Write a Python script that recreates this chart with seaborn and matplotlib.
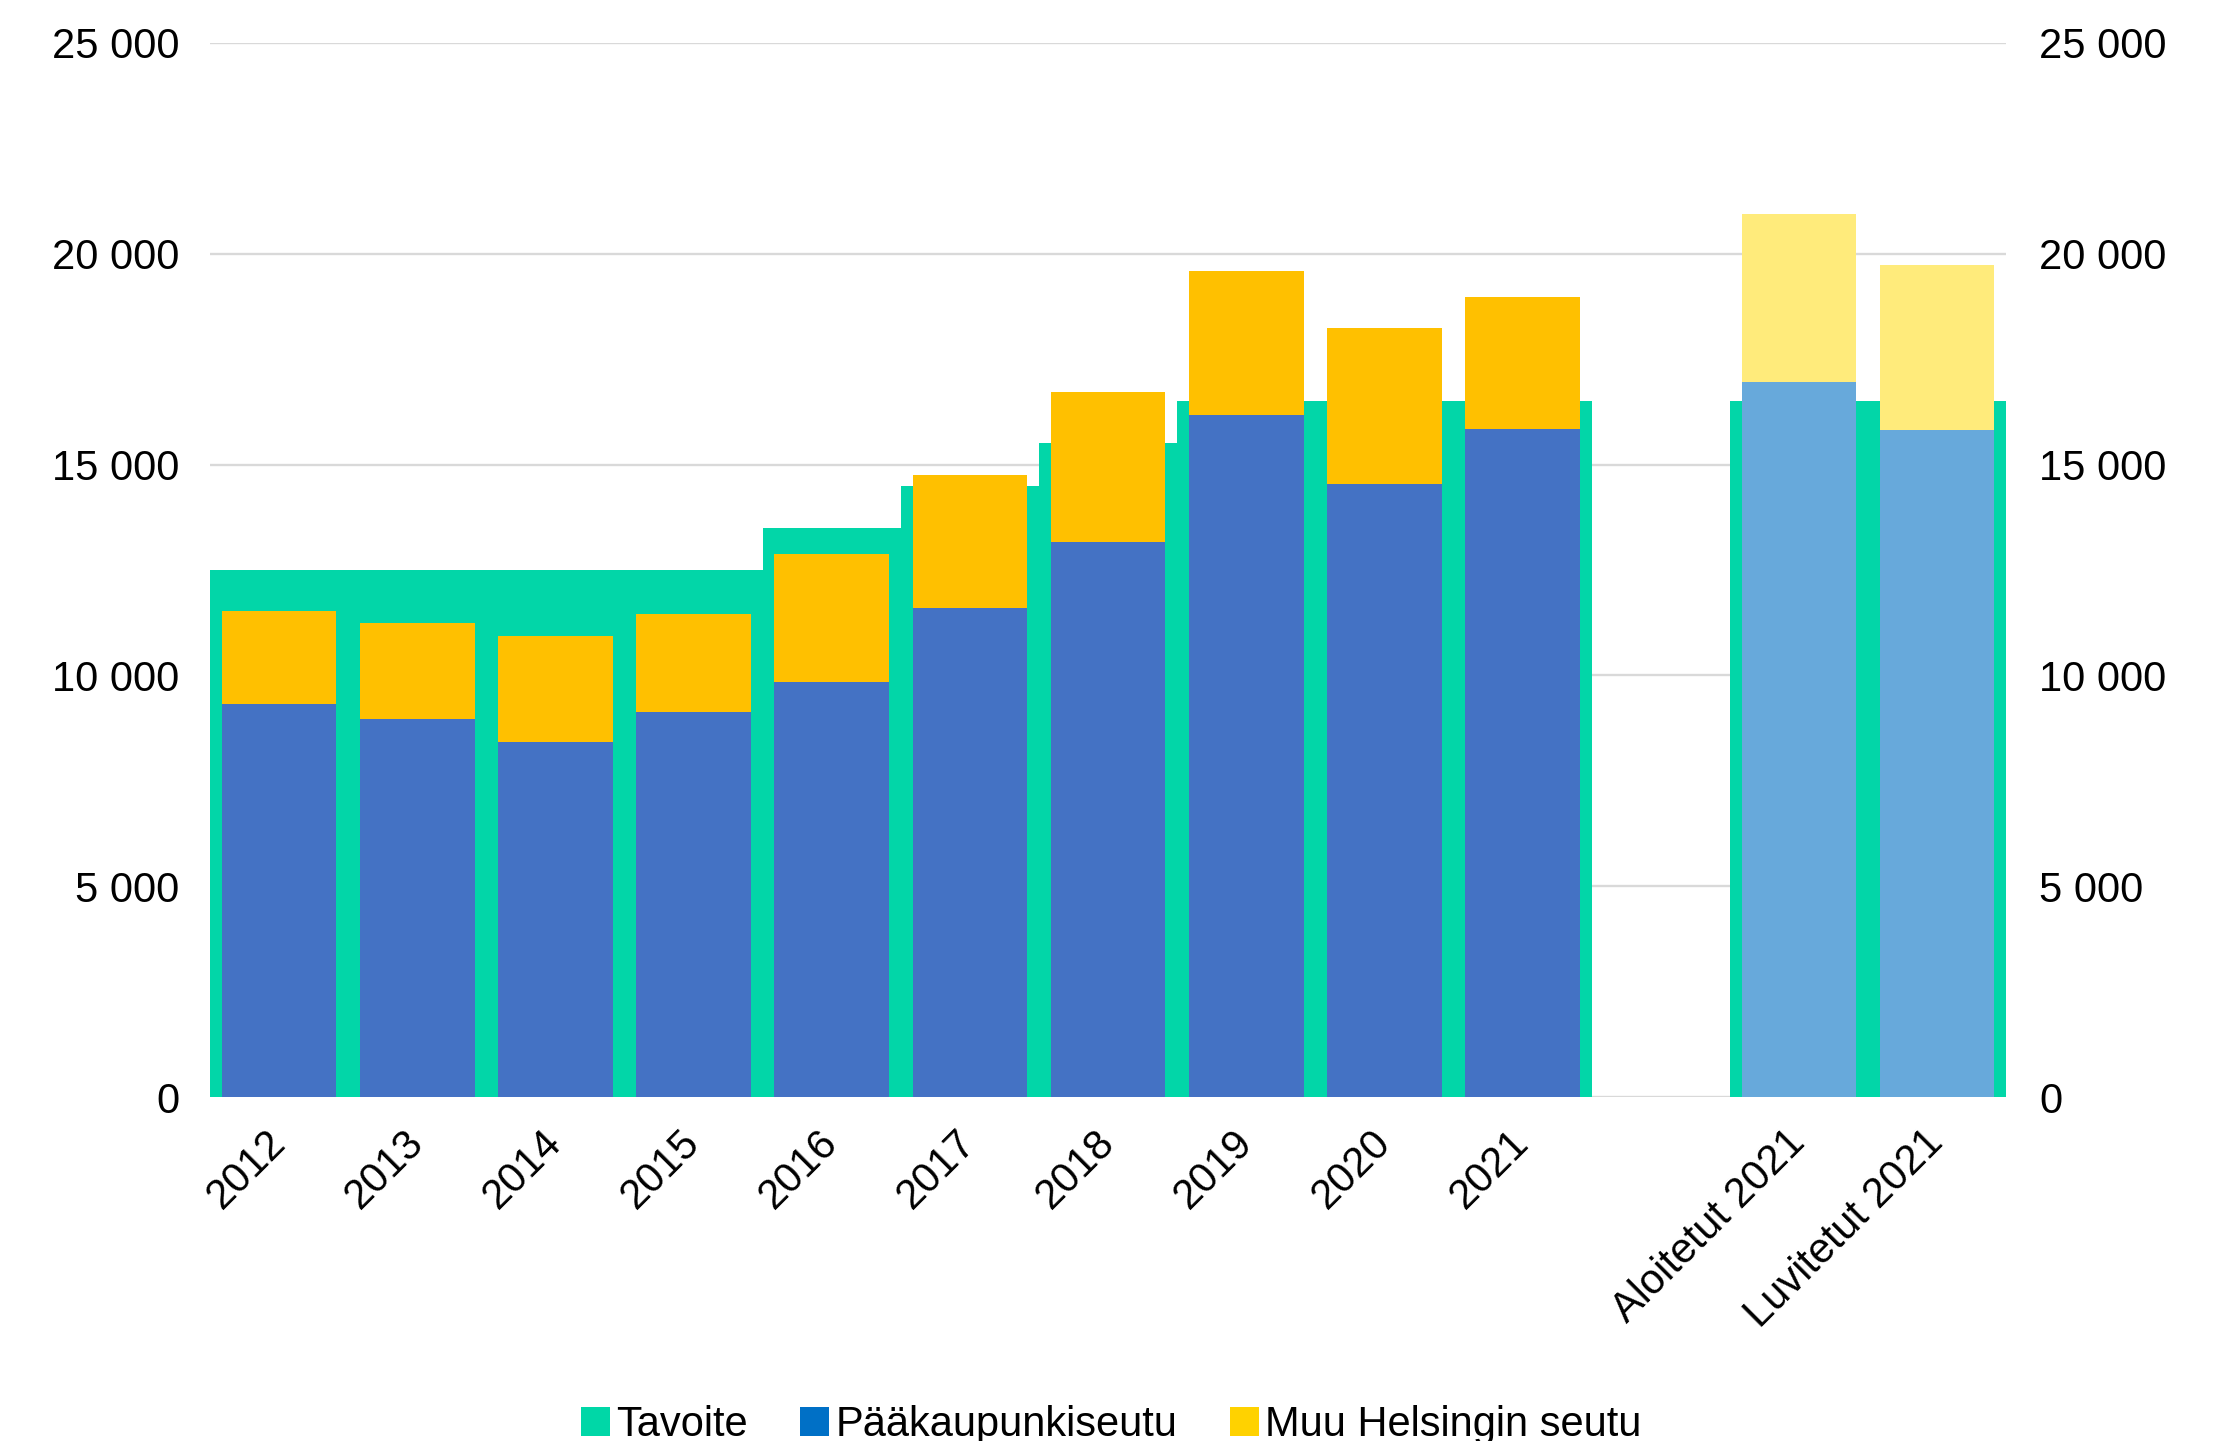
import matplotlib
matplotlib.use("Agg")
import matplotlib.pyplot as plt
import matplotlib.transforms as mtransforms
from matplotlib.patches import Patch
import seaborn as sns
import pandas as pd

# Categories (the blank slot separates yearly totals from the 2021 breakdown)
categories = ["2012", "2013", "2014", "2015", "2016", "2017", "2018", "2019",
              "2020", "2021", " ", "Aloitetut 2021", "Luvitetut 2021"]
data_categories = ["2012", "2013", "2014", "2015", "2016", "2017", "2018", "2019",
                   "2020", "2021", "Aloitetut 2021", "Luvitetut 2021"]

# Target (Tavoite)
tavoite = [12500, 12500, 12500, 12500, 13500, 14500, 15500, 16500,
           16500, 16500, 16500, 16500]
# Capital region (Pääkaupunkiseutu)
paakaupunkiseutu = [9310, 8970, 8430, 9140, 9840, 11610, 13160, 16170,
                    14540, 15840, 16950, 15830]
# Rest of Helsinki region (Muu Helsingin seutu)
muu_seutu = [2220, 2270, 2510, 2310, 3030, 3140, 3560, 3430,
             3690, 3130, 4000, 3910]

y_ticks = [0, 5000, 10000, 15000, 20000, 25000]
y_tick_labels = ["0", "5 000", "10 000", "15 000", "20 000", "25 000"]

legend_labels = ["Tavoite", "Pääkaupunkiseutu", "Muu Helsingin seutu"]

# Colours
c_target = "#02D6A8"
c_pks = {c: "#4472C4" for c in data_categories}
c_muu = {c: "#FFC000" for c in data_categories}
for c in ["Aloitetut 2021", "Luvitetut 2021"]:
    c_pks[c] = "#67A9DB"
    c_muu[c] = "#FFEB7B"
legend_colors = ["#00D7A7", "#0070C6", "#FFD200"]

df = pd.DataFrame({
    "kategoria": data_categories,
    "tavoite": tavoite,
    "pks": paakaupunkiseutu,
    "muu": muu_seutu,
})
df["yhteensa"] = df["pks"] + df["muu"]

sns.set_theme(style="white")
plt.rcParams["font.family"] = ["Liberation Sans", "DejaVu Sans"]
plt.rcParams["text.color"] = "black"

fig = plt.figure(figsize=(22.29, 14.41), dpi=100)
ax = fig.add_axes([0.0942, 0.2387, 0.9000 - 0.0942, 0.9702 - 0.2387])

sns.barplot(data=df, x="kategoria", y="tavoite", order=categories,
            color=c_target, width=1.0, errorbar=None, linewidth=0,
            saturation=1, ax=ax)
sns.barplot(data=df, x="kategoria", y="yhteensa", order=categories,
            hue="kategoria", palette=c_muu, dodge=False, legend=False,
            width=0.83, errorbar=None, linewidth=0, saturation=1, ax=ax)
sns.barplot(data=df, x="kategoria", y="pks", order=categories,
            hue="kategoria", palette=c_pks, dodge=False, legend=False,
            width=0.83, errorbar=None, linewidth=0, saturation=1, ax=ax)

ax.set_xlim(-0.5, len(categories) - 0.5)
ax.set_ylim(0, 25000)
ax.set_yticks(y_ticks)
ax.set_yticklabels(y_tick_labels)
ax.set_xlabel("")
ax.set_ylabel("")
ax.set_axisbelow(True)
ax.yaxis.grid(True, color="#D9D9D9", linewidth=1.7)
ax.xaxis.grid(False)
for s in ax.spines.values():
    s.set_visible(False)
ax.tick_params(axis="y", length=0, pad=22, labelsize=30, labelcolor="black")
ax.tick_params(axis="x", length=0, pad=14, labelsize=30, labelcolor="black")
shift = mtransforms.ScaledTranslation(-0.14, -0.06, fig.dpi_scale_trans)
for lbl in ax.get_xticklabels():
    lbl.set_rotation(45)
    lbl.set_ha("right")
    lbl.set_va("top")
    lbl.set_rotation_mode("anchor")
    lbl.set_transform(lbl.get_transform() + shift)

ax2 = ax.twinx()
ax2.set_ylim(0, 25000)
ax2.set_yticks(y_ticks)
ax2.set_yticklabels(y_tick_labels)
ax2.grid(False)
for s in ax2.spines.values():
    s.set_visible(False)
ax2.tick_params(axis="y", length=0, pad=24, labelsize=30, labelcolor="black")

handles = [Patch(facecolor=c, edgecolor="none") for c in legend_colors]
fig.legend(handles, legend_labels, loc="center", bbox_to_anchor=(0.4985, 0.011),
           ncol=3, frameon=False, fontsize=30, handlelength=0.7,
           handleheight=0.7, handletextpad=0.15, columnspacing=1.25,
           borderaxespad=0, borderpad=0, labelcolor="black")

fig.savefig("out.png", dpi=100)
